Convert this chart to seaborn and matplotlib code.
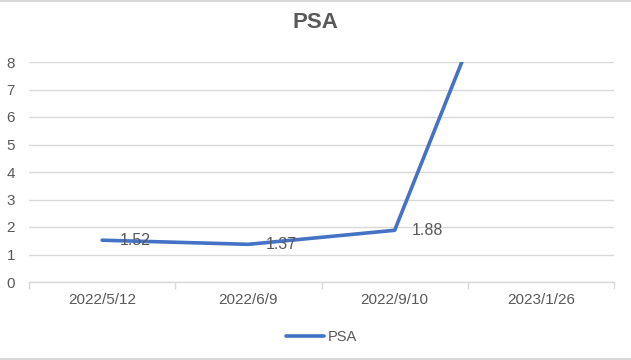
import matplotlib
matplotlib.use("Agg")
import matplotlib.pyplot as plt
import seaborn as sns
import pandas as pd
import numpy as np

dates = ["2022/5/12", "2022/6/9", "2022/9/10", "2023/1/26"]
psa = [1.52, 1.37, 1.88, 15.2]
yticks = [0, 1, 2, 3, 4, 5, 6, 7, 8]

sns.set_theme(style="white")
plt.rcParams['font.family'] = ['Liberation Sans', 'DejaVu Sans']

df = pd.DataFrame({"date": dates, "PSA": psa})

fig = plt.figure(figsize=(6.31, 3.6), dpi=100)
ax = fig.add_axes([29/631, (360-282)/360, (614-29)/631, (282-62)/360])

sns.lineplot(data=df, x="date", y="PSA", ax=ax, color="#4472C4", linewidth=2.6,
             label="PSA", sort=False)

ax.set_ylim(0, 8)
ax.set_xlim(-0.5, len(dates) - 0.5)
ax.set_yticks(yticks)
ax.grid(axis="y", color="#D9D9D9", linewidth=1)
ax.set_axisbelow(True)
for s in ["top", "right", "left"]:
    ax.spines[s].set_visible(False)
ax.spines["bottom"].set_color("#D9D9D9")
ax.spines["bottom"].set_linewidth(1)

ax.set_xticks(range(len(dates)))
ax.set_xticklabels(dates)
ax.set_xticks(np.arange(-0.5, len(dates), 1.0), minor=True)
ax.tick_params(axis="x", which="major", length=0, pad=8, labelsize=11, labelcolor="#595959")
ax.tick_params(axis="x", which="minor", length=5, color="#D9D9D9", width=1, bottom=True)
ax.tick_params(axis="y", length=0, pad=10, labelsize=11, labelcolor="#595959")
ax.set_xlabel("")
ax.set_ylabel("")

for i, v in enumerate(psa):
    ax.annotate(f"{v:.2f}", (i, v), xytext=(12.5, 0), textcoords="offset points",
                ha="left", va="center", fontsize=11.5, color="#595959",
                annotation_clip=True)

fig.text(0.5, 1 - 22/360, "PSA", ha="center", va="center", fontsize=16,
         fontweight="bold", color="#595959")

leg = ax.legend(loc="center", bbox_to_anchor=(0.5, -0.25), frameon=False,
                fontsize=10.5, handlelength=2.6, handletextpad=0.3)
for t in leg.get_texts():
    t.set_color("#595959")

# light border lines at top and bottom of the chart area
fig.add_artist(plt.Line2D([0, 1], [1 - 1/360, 1 - 1/360], transform=fig.transFigure,
                          color="#D9D9D9", linewidth=1.5))
fig.add_artist(plt.Line2D([0, 1], [1/360, 1/360], transform=fig.transFigure,
                          color="#D9D9D9", linewidth=1.5))

fig.savefig("out.png", dpi=100)
